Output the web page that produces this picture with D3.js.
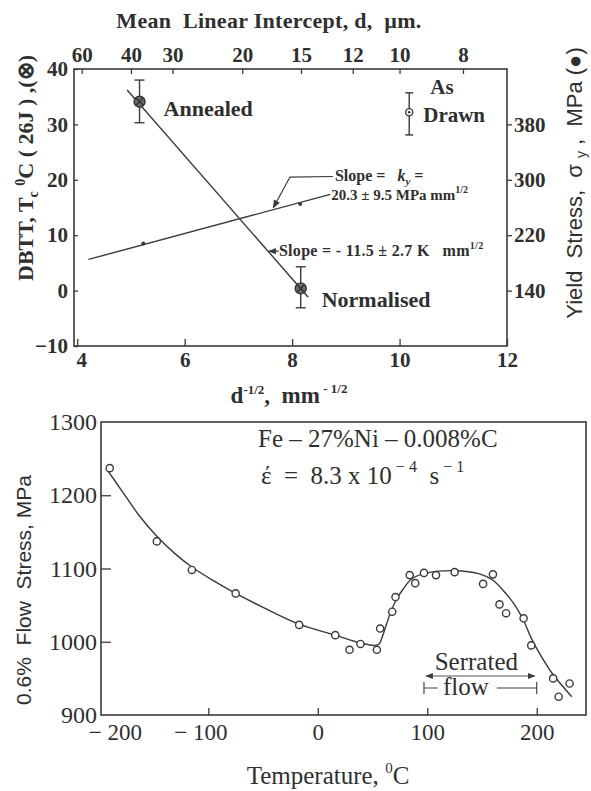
<!DOCTYPE html>
<html><head><meta charset="utf-8">
<script src="https://cdn.jsdelivr.net/npm/d3@7"></script>
<style>body{margin:0;background:#fff}svg{display:block}</style>
</head><body>
<svg id="c" width="591" height="791"></svg>
<script>
// ---------------- DATA ----------------
// Top panel: DBTT / yield stress vs d^-1/2
const dTicks = [60, 40, 30, 20, 15, 12, 10, 8];          // mean linear intercept, µm
const xTicksTop = [4, 6, 8, 10, 12];                       // d^-1/2, mm^-1/2
const dbttTicks = [-10, 0, 10, 20, 30, 40];
const yieldTicks = [140, 220, 300, 380];
const dbttNames = ["Annealed", "Normalised", "As Drawn"];
const dbttX = [5.16, 8.16, 10.18];
const dbttY = [34.1, 0.4, 32.2];
const dbttLo = [30.3, -3.1, 28.1];
const dbttHi = [38.0, 4.3, 35.7];
const dbttFitX = [4.93, 8.30];
const dbttFitY = [36.2, -1.2];
const yieldX = [5.23, 8.15];
const yieldY = [208, 265];
const yieldFitX = [4.21, 8.71];
const yieldFitY = [185, 279];

// Bottom panel: flow stress vs temperature
const tempTicks = [-200, -100, 0, 100, 200];
const stressTicks = [900, 1000, 1100, 1200, 1300];
const tempC = [-190, -147, -115, -75, -17, 16, 29, 39, 54, 57, 68, 71, 84, 89, 97, 108, 125, 151, 160, 166, 172, 188, 195, 215, 220, 230];
const flowStress = [1237, 1137, 1098, 1066, 1023, 1009, 989, 997, 989, 1018, 1041, 1061, 1091, 1080, 1094, 1091, 1095, 1079, 1092, 1051, 1039, 1032, 995, 950, 925, 943];
const curveT = [-192, -178, -163, -147, -131, -115, -95, -75, -50, -17, 16, 40, 52, 56, 59, 63, 67, 72, 78, 86, 100, 125, 147, 160, 170, 180, 188, 195, 205, 214, 232];
const curveS = [1234, 1204, 1172, 1144, 1121, 1102, 1083, 1066, 1047, 1024, 1009, 998, 995, 997, 1007, 1025, 1042, 1058, 1072, 1086, 1094, 1097, 1093, 1084, 1069, 1050, 1029, 1005, 978, 957, 925];
const serratedRange = [97, 200];

// ---------------- STYLE ----------------
const SERIF = "'Liberation Serif','Times New Roman',serif";
const SANS = "'Liberation Sans',Arial,sans-serif";
const INK = "#2f2f2f";
const LINE = "#3a3a3a";

const svg = d3.select("#c");
const defs = svg.append("defs");
defs.append("marker").attr("id","ah").attr("viewBox","0 0 10 10").attr("refX",9).attr("refY",5)
  .attr("markerWidth",7).attr("markerHeight",7).attr("orient","auto-start-reverse")
  .append("path").attr("d","M0,1L10,5L0,9z").attr("fill",LINE);

function styleAxis(g, font, size, weight) {
  g.select(".domain").remove();
  g.selectAll(".tick line").attr("stroke", LINE).attr("stroke-width", 1.3);
  g.selectAll(".tick text").attr("fill", INK).style("font-family", font)
    .style("font-size", size + "px").style("font-weight", weight);
}
function txt(g, x, y, s, opt = {}) {
  const t = g.append("text").attr("x", x).attr("y", y).text(s).attr("fill", INK)
    .style("font-family", opt.font || SERIF).style("font-size", (opt.size || 20) + "px")
    .style("font-weight", opt.weight || "normal").attr("text-anchor", opt.anchor || "start")
    .style("white-space", "pre");
  if (opt.ls) t.style("letter-spacing", opt.ls + "px");
  return t;
}

// ================= TOP PANEL =================
const x1 = d3.scaleLinear().domain([3.94, 12]).range([74, 507]);
const yL = d3.scaleLinear().domain([-10, 40]).range([346, 69]);
const yR = d3.scaleLinear().domain([60, 460]).range([346, 69]);
const g1 = svg.append("g");

g1.append("rect").attr("x", x1.range()[0]).attr("y", yL.range()[1])
  .attr("width", x1.range()[1] - x1.range()[0]).attr("height", yL.range()[0] - yL.range()[1])
  .attr("fill", "none").attr("stroke", LINE).attr("stroke-width", 1.6);

const dToX = d => 1 / Math.sqrt(d / 1000);
g1.append("g").attr("transform", `translate(0,${yL.range()[0]})`)
  .call(d3.axisBottom(x1).tickValues(xTicksTop).tickSize(-7).tickPadding(6).tickFormat(d3.format("d")))
  .call(g => styleAxis(g, SERIF, 21, "bold"))
  .call(g => g.selectAll(".tick text").attr("dx", d => d === 4 ? 4 : 0));
g1.append("g").attr("transform", `translate(0,${yL.range()[1]})`)
  .call(d3.axisTop(x1).tickValues(dTicks.map(dToX)).tickFormat((v, i) => dTicks[i]).tickSize(-5).tickPadding(7))
  .call(g => styleAxis(g, SERIF, 21, "bold"));
g1.append("g").attr("transform", `translate(${x1.range()[0]},0)`)
  .call(d3.axisLeft(yL).tickValues(dbttTicks).tickSize(-4).tickPadding(6).tickFormat(d3.format("d")))
  .call(g => styleAxis(g, SERIF, 21, "bold"));
g1.append("g").attr("transform", `translate(${x1.range()[1]},0)`)
  .call(d3.axisRight(yR).tickValues(yieldTicks).tickSize(5).tickPadding(2).tickFormat(d3.format("d")))
  .call(g => styleAxis(g, SERIF, 21, "bold"));

// fit lines
g1.append("path").datum(d3.zip(dbttFitX, dbttFitY))
  .attr("d", d3.line().x(d => x1(d[0])).y(d => yL(d[1])))
  .attr("fill", "none").attr("stroke", LINE).attr("stroke-width", 1.4);
g1.append("path").datum(d3.zip(yieldFitX, yieldFitY))
  .attr("d", d3.line().x(d => x1(d[0])).y(d => yR(d[1])))
  .attr("fill", "none").attr("stroke", LINE).attr("stroke-width", 1.4);
g1.selectAll(".yp").data(d3.zip(yieldX, yieldY)).join("circle")
  .attr("cx", d => x1(d[0])).attr("cy", d => yR(d[1])).attr("r", 2).attr("fill", LINE);

// error bars + DBTT markers
const pts = dbttX.map((x, i) => ({ x, y: dbttY[i], lo: dbttLo[i], hi: dbttHi[i], name: dbttNames[i] }));
pts.forEach((p, i) => {
  const cx = x1(p.x);
  g1.append("line").attr("x1", cx).attr("x2", cx).attr("y1", yL(p.hi)).attr("y2", yL(p.lo))
    .attr("stroke", LINE).attr("stroke-width", 1.4);
  const cw = i === 2 ? 4 : 5;
  [p.hi, p.lo].forEach(v => g1.append("line").attr("x1", cx - cw).attr("x2", cx + cw)
    .attr("y1", yL(v)).attr("y2", yL(v)).attr("stroke", LINE).attr("stroke-width", 1.4));
  if (i < 2) {
    g1.append("circle").attr("cx", cx).attr("cy", yL(p.y)).attr("r", 5.5)
      .attr("fill", "#6a6a6a").attr("stroke", "#333").attr("stroke-width", 1.4);
    const k = 3.2;
    g1.append("path").attr("d", `M${cx-k},${yL(p.y)-k}L${cx+k},${yL(p.y)+k}M${cx-k},${yL(p.y)+k}L${cx+k},${yL(p.y)-k}`)
      .attr("stroke", "#222").attr("stroke-width", 1.1);
  } else {
    g1.append("circle").attr("cx", cx).attr("cy", yL(p.y)).attr("r", 3.6)
      .attr("fill", "#fff").attr("stroke", "#333").attr("stroke-width", 1.3);
    g1.append("circle").attr("cx", cx).attr("cy", yL(p.y)).attr("r", 1.3).attr("fill", "#333");
  }
});

// point labels
txt(g1, x1(dbttX[0]) + 24, yL(dbttY[0]) + 14, "Annealed", { size: 22, weight: "bold" });
txt(g1, x1(dbttX[1]) + 21, yL(dbttY[1]) + 19, "Normalised", { size: 22, weight: "bold" });
txt(g1, x1(dbttX[2]) + 21, yL(dbttY[2]) - 18, "As", { size: 21, weight: "bold" });
txt(g1, x1(dbttX[2]) + 14, yL(dbttY[2]) + 10, "Drawn", { size: 21, weight: "bold" });

// k_y slope annotation with leader
const yieldAt = x => yieldFitY[0] + (yieldFitY[1] - yieldFitY[0]) * (x - yieldFitX[0]) / (yieldFitX[1] - yieldFitX[0]);
const tipX = 7.65;
g1.append("path").attr("d", `M${x1(8.76)},${yL(20.6)}L${x1(7.96)},${yL(20.5)}L${x1(tipX)},${yR(yieldAt(tipX)) - 2}`)
  .attr("fill", "none").attr("stroke", LINE).attr("stroke-width", 1.2).attr("marker-end", "url(#ah)");
const t1 = txt(g1, x1(8.76) + 2, yL(20.6) + 5, "Slope =   ", { size: 16, weight: "bold" });
t1.append("tspan").text("k").style("font-style", "italic");
t1.append("tspan").text("y").style("font-style", "italic").attr("font-size", "11px").attr("dy", 4);
t1.append("tspan").text(" =").attr("dy", -4);
const t2 = txt(g1, x1(8.71) + 1, yL(17.4) + 6, "20.3 ± 9.5 MPa mm", { size: 15, weight: "bold" });
t2.append("tspan").text("1/2").attr("font-size", "10px").attr("dy", -7);

// DBTT slope annotation
const dbttAt = x => dbttFitY[0] + (dbttFitY[1] - dbttFitY[0]) * (x - dbttFitX[0]) / (dbttFitX[1] - dbttFitX[0]);
const ax = 7.55;
g1.append("line").attr("x1", x1(ax) + 11).attr("x2", x1(ax) + 1).attr("y1", yL(dbttAt(ax))).attr("y2", yL(dbttAt(ax)))
  .attr("stroke", LINE).attr("stroke-width", 1.2).attr("marker-end", "url(#ah)");
const t3 = txt(g1, x1(ax) + 11, yL(dbttAt(ax)) + 5, "Slope = - 11.5 ± 2.7 K   mm", { size: 16, weight: "bold", ls: 0.3 });
t3.append("tspan").text("1/2").attr("font-size", "10px").attr("dy", -7);

// axis titles (top panel)
txt(g1, 269, 28, "Mean  Linear Intercept, d,  µm.", { size: 22, weight: "bold", anchor: "middle", ls: 0.3 });
const xt = txt(g1, 289, 403, "d", { size: 23, weight: "bold", anchor: "middle" });
xt.append("tspan").text("-1/2").attr("font-size", "13px").attr("dy", -9);
xt.append("tspan").text(",  mm").attr("dy", 9);
xt.append("tspan").text(" - 1/2").attr("font-size", "13px").attr("dy", -10);

const yl = g1.append("text").attr("transform", "translate(33,168) rotate(-90)").attr("text-anchor", "middle")
  .attr("fill", INK).style("font-family", SERIF).style("font-size", "22px").style("font-weight", "bold")
  .style("white-space", "pre");
yl.append("tspan").text("DBTT, T");
yl.append("tspan").text("c").attr("font-size", "14px").attr("dy", 5);
yl.append("tspan").text(" ").attr("dy", -5);
yl.append("tspan").text("0").attr("font-size", "14px").attr("dy", -8);
yl.append("tspan").text("C ( 26J ) ,(⊗)").attr("dy", 8);

const yr = g1.append("text").attr("transform", "translate(582,183) rotate(-90)").attr("text-anchor", "middle")
  .attr("fill", INK).style("font-family", SANS).style("font-size", "22px").style("white-space", "pre");
yr.append("tspan").text("Yield  Stress,  σ ");
yr.append("tspan").text("y").attr("font-size", "14px").attr("dy", 4);
yr.append("tspan").text(" ,  MPa (●)").attr("dy", -4);

// ================= BOTTOM PANEL =================
const x2 = d3.scaleLinear().domain([-198, 245]).range([101, 586]);
const y2 = d3.scaleLinear().domain([900, 1300]).range([715, 422]);
const g2 = svg.append("g");
g2.append("rect").attr("x", x2.range()[0]).attr("y", y2.range()[1])
  .attr("width", x2.range()[1] - x2.range()[0]).attr("height", y2.range()[0] - y2.range()[1])
  .attr("fill", "none").attr("stroke", LINE).attr("stroke-width", 1.6);

g2.append("g").attr("transform", `translate(0,${y2.range()[0]})`)
  .call(d3.axisBottom(x2).tickValues(tempTicks).tickSize(-7).tickPadding(9)
    .tickFormat(d => d < 0 ? "− " + (-d) : String(d)))
  .call(g => styleAxis(g, SERIF, 23, "normal"))
  .call(g => g.selectAll(".tick text").style("white-space", "pre").attr("dx", d => d === -200 ? 16 : (d < 0 ? -8 : 0)))
  .call(g => g.selectAll(".tick").filter(d => d === -200).select("line").remove());
g2.append("g").attr("transform", `translate(${x2.range()[0]},0)`)
  .call(d3.axisLeft(y2).tickValues(stressTicks).tickSize(-10).tickPadding(4).tickFormat(d3.format("d")))
  .call(g => styleAxis(g, SERIF, 24, "normal"))
  .call(g => g.selectAll(".tick").filter(d => d === 900 || d === 1300).select("line").remove());

g2.append("path").datum(d3.zip(curveT, curveS))
  .attr("d", d3.line().curve(d3.curveCatmullRom.alpha(0.5)).x(d => x2(d[0])).y(d => y2(d[1])))
  .attr("fill", "none").attr("stroke", LINE).attr("stroke-width", 1.4);
g2.selectAll(".fp").data(d3.zip(tempC, flowStress)).join("circle")
  .attr("cx", d => x2(d[0])).attr("cy", d => y2(d[1])).attr("r", 3.6)
  .attr("fill", "#fff").attr("stroke", LINE).attr("stroke-width", 1.4);

// composition text
txt(g2, 258, 447, "Fe – 27%Ni – 0.008%C", { size: 25 });
const er = txt(g2, 261, 484, "έ  =  8.3 x 10", { size: 25 });
er.append("tspan").text(" − 4").attr("font-size", "16px").attr("dy", -12);
er.append("tspan").text("  s").attr("dy", 12);
er.append("tspan").text(" − 1").attr("font-size", "16px").attr("dy", -12);

// serrated flow annotation
const sx0 = x2(serratedRange[0]), sx1 = x2(serratedRange[1]);
txt(g2, (sx0 + sx1) / 2 - 4, 670, "Serrated", { size: 25, anchor: "middle" });
g2.append("line").attr("x1", sx0 + 2).attr("x2", sx1 - 2).attr("y1", 676).attr("y2", 676)
  .attr("stroke", "#555").attr("stroke-width", 1.1)
  .attr("marker-start", "url(#ah)").attr("marker-end", "url(#ah)");
g2.append("path").attr("d", `M${sx0},682V694M${sx1},682V694M${sx0},688H${sx0 + 14}M${sx1 - 40},688H${sx1}`)
  .attr("stroke", "#444").attr("stroke-width", 1.2).attr("fill", "none");
txt(g2, sx0 + 42, 695, "flow", { size: 25, anchor: "middle" });

// axis titles (bottom panel)
const xt2 = txt(g2, 328, 784, "Temperature, ", { size: 25, anchor: "middle" });
xt2.append("tspan").text("0").attr("font-size", "15px").attr("dy", -11);
xt2.append("tspan").text("C").attr("dy", 11);
g2.append("text").attr("transform", "translate(31,590) rotate(-90)").attr("text-anchor", "middle")
  .attr("fill", INK).style("font-family", SANS).style("font-size", "21px").style("white-space", "pre")
  .text("0.6%  Flow  Stress, MPa");
</script>
</body></html>
